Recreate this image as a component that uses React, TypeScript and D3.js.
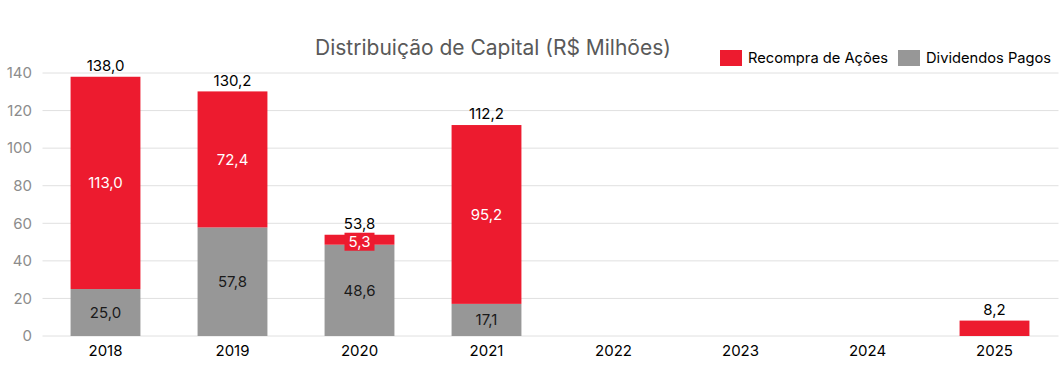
import React from "react";
import * as d3 from "d3";

const categories = ["2018", "2019", "2020", "2021", "2022", "2023", "2024", "2025"];
const dividendos = [25.0, 57.8, 48.6, 17.1, 0, 0, 0, 0];
const recompra = [113.0, 72.4, 5.3, 95.2, 0, 0, 0, 8.2];
const totals = [138.0, 130.2, 53.8, 112.2, null, null, null, 8.2];
const yTicks = [0, 20, 40, 60, 80, 100, 120, 140];

const RED = "#ED1B2F";
const GRAY = "#979797";
const FONT = "Inter, 'Open Sans', sans-serif";

const fmt = (v: number) => v.toFixed(1).replace(".", ",");

export default function App() {
  const W = 1060, H = 382;
  const x = d3.scaleBand<string>().domain(categories).range([42, 1058]).paddingInner(0.45).paddingOuter(0.225);
  const y = d3.scaleLinear().domain([0, 140]).range([336, 73]);
  const bw = x.bandwidth();
  return (
    <svg width={W} height={H} style={{ position: "absolute", left: 0, top: 0, fontFamily: FONT }}>
      <rect width={W} height={H} fill="#fff" />
      {yTicks.map((t) => (
        <g key={t}>
          <line x1={42.5} x2={1058.5} y1={y(t)} y2={y(t)} stroke="#e0e0e0" strokeWidth={1} />
          <text x={32} y={y(t)} dy="0.35em" textAnchor="end" fontSize={15} fill="#8c8c8c">{t}</text>
        </g>
      ))}
      {categories.map((c, i) => {
        const x0 = x(c)!;
        const cx = x0 + bw / 2;
        const d = dividendos[i];
        const r = recompra[i];
        const tot = totals[i];
        const small = r > 0 && y(d) - y(d + r) < 20;
        return (
          <g key={c}>
            {d > 0 && <rect x={x0} y={y(d)} width={bw} height={y(0) - y(d)} fill={GRAY} />}
            {r > 0 && <rect x={x0} y={y(d + r)} width={bw} height={y(d) - y(d + r)} fill={RED} />}
            {d > 0 && (
              <text x={cx} y={(y(0) + y(d)) / 2} dy="0.35em" textAnchor="middle" fontSize={15} fill="#1a1a1a">{fmt(d)}</text>
            )}
            {r > 0 && d > 0 && small && (
              <g>
                <rect x={cx - 15} y={(y(d) + y(d + r)) / 2 - 7} width={30} height={18} fill={RED} />
                <text x={cx} y={(y(d) + y(d + r)) / 2 + 2} dy="0.35em" textAnchor="middle" fontSize={15} fill="#fff">{fmt(r)}</text>
              </g>
            )}
            {r > 0 && d > 0 && !small && (
              <text x={cx} y={(y(d) + y(d + r)) / 2} dy="0.35em" textAnchor="middle" fontSize={15} fill="#fff">{fmt(r)}</text>
            )}
            {tot != null && (
              <text x={cx} y={y(tot) - 11} dy="0.35em" textAnchor="middle" fontSize={15} fill="#000">{fmt(tot)}</text>
            )}
            <text x={cx} y={351} dy="0.35em" textAnchor="middle" fontSize={15} fill="#000">{c}</text>
          </g>
        );
      })}
      <text x={493} y={48} dy="0.35em" textAnchor="middle" fontSize={21} fill="#595959">Distribuição de Capital (R$ Milhões)</text>
      <rect x={720} y={50} width={22} height={16} fill={RED} />
      <text x={748} y={58} dy="0.35em" fontSize={14.7} fill="#000">Recompra de Ações</text>
      <rect x={898} y={50} width={22} height={16} fill={GRAY} />
      <text x={926} y={58} dy="0.35em" fontSize={14.7} fill="#000">Dividendos Pagos</text>
    </svg>
  );
}
